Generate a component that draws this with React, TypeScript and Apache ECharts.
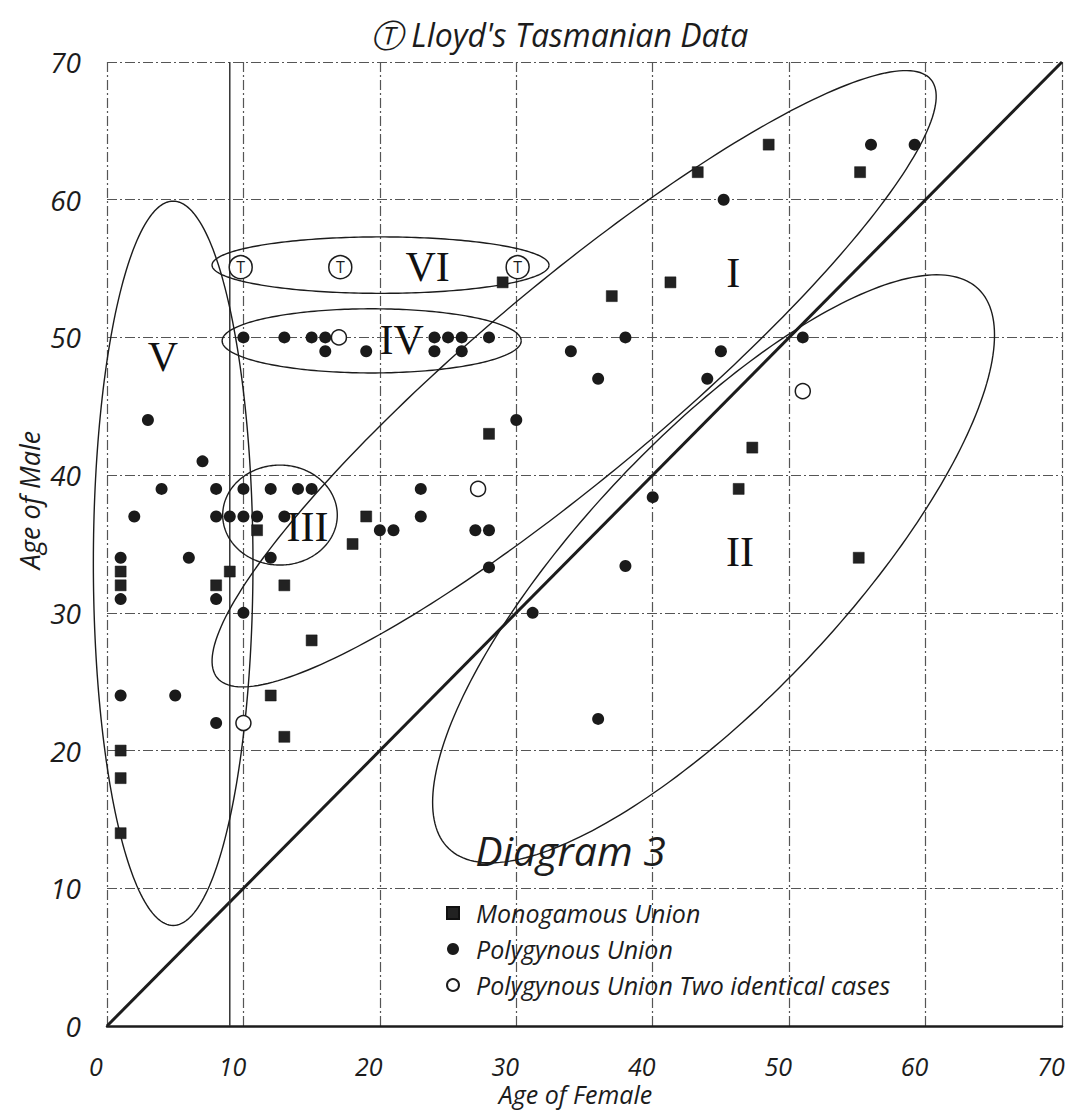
import React, { useEffect, useRef } from "react";
import * as echarts from "echarts";

// Age of Female (x), Age of Male (y)
const monogamous: number[][] = [
  [1, 20], [1, 18], [1, 14], [1, 33], [1, 32], [8, 32], [9, 33], [11, 36], [13, 32],
  [15, 28], [12, 24], [13, 21], [18, 35], [19, 37], [28, 43], [29, 54], [37, 53],
  [41.3, 54], [43.3, 62], [48.5, 64], [55.2, 62], [47.3, 42], [46.3, 39], [55.1, 34],
];
const polygynous: number[][] = [
  [1, 34], [1, 31], [1, 24], [2, 37], [3, 44], [4, 39], [5, 24], [6, 34], [7, 41],
  [8, 39], [8, 37], [8, 31], [8, 22], [9, 37], [10, 39], [10, 37], [10, 30], [10, 50],
  [11, 37], [12, 39], [12, 34], [13, 37], [13, 50], [14, 39], [15, 39], [15, 50],
  [16, 50], [16, 49], [19, 49], [20, 36], [21, 36], [23, 39], [23, 37], [24, 50],
  [24, 49], [25, 50], [26, 50], [26, 49], [27, 36], [28, 36], [28, 33.3], [28, 50],
  [30, 44], [31.2, 30], [34, 49], [36, 47], [36, 22.3], [38, 50], [38, 33.4],
  [40, 38.4], [44, 47], [45, 49], [45.2, 60], [51, 50], [56, 64], [59.2, 64],
];
const polygynousTwin: number[][] = [[10, 22], [17, 50], [27.2, 39], [51, 46.1]];
const lloydTasmanian: number[][] = [[9.8, 55.1], [17.1, 55.1], [30.1, 55.1]];
// group ellipses: centreX, centreY, semi-axis a, semi-axis b, angle (deg)
const groupEllipses: number[][] = [
  [34.24, 47.0, 34.0, 7.0, 39.7], // I
  [44.46, 33.2, 28.1, 9.5, 46.3], // II
  [12.68, 37.1, 4.2, 3.63, 0], // III
  [19.4, 49.75, 10.96, 2.33, 0], // IV
  [4.85, 33.6, 5.85, 26.3, 0], // V
  [20.05, 55.25, 12.35, 2.05, 0], // VI
];
const groupNames = ["I", "II", "III", "IV", "V", "VI"];
const groupLabelPos: number[][] = [
  [45.9, 54.7], [46.4, 34.4], [14.7, 36.2], [21.6, 49.8], [4.1, 48.6], [23.5, 55.1],
];
const diagonal: number[][] = [[0, 0], [70, 70]];
const extraLine: number[][] = [[9, 0], [9, 70]];
const diagramTitlePos: number[] = [27, 12.8];

const SANS = "'Open Sans', 'DejaVu Sans', sans-serif";
const SERIF = "'Liberation Serif', 'DejaVu Serif', serif";
const INK = "#1c1c1c";

export default function App() {
  const ref = useRef<HTMLDivElement>(null);
  useEffect(() => {
    if (!ref.current) return;
    const chart = echarts.init(ref.current, undefined, { renderer: "svg" });
    const gridLine = { show: true, lineStyle: { color: "#555", width: 1.2, type: [10, 3, 2, 3] } };
    const option: any = {
      animation: false,
      backgroundColor: "#fff",
      title: {
        text: "Ⓣ Lloyd's Tasmanian Data",
        left: 366,
        top: 13,
        textStyle: { fontSize: 32, fontStyle: "italic", fontWeight: "normal", fontFamily: SANS, color: INK },
      },
      grid: { left: 107, top: 62, width: 955, height: 964, outerBoundsMode: "none", containLabel: false },
      xAxis: {
        type: "value",
        min: 0,
        max: 70,
        interval: 10,
        name: "Age of Female",
        nameLocation: "middle",
        nameGap: 59,
        nameMoveOverlap: false,
        nameTextStyle: {
          fontSize: 25, fontStyle: "italic", fontFamily: SANS, color: INK,
          padding: [0, 18, 0, 0], verticalAlign: "top", lineHeight: 18,
        },
        axisLine: { show: true, lineStyle: { color: INK, width: 2.5 } },
        axisTick: { show: false },
        splitLine: gridLine,
        axisLabel: {
          fontSize: 25, fontStyle: "italic", fontFamily: SANS, color: INK,
          margin: 30, lineHeight: 20, padding: [0, 22, 0, 0],
        },
      },
      yAxis: {
        type: "value",
        min: 0,
        max: 70,
        interval: 10,
        name: "Age of Male",
        nameLocation: "middle",
        nameGap: 64,
        nameMoveOverlap: false,
        nameRotate: 90,
        nameTextStyle: { fontSize: 27, fontStyle: "italic", fontFamily: SANS, color: INK, padding: [0, 0, 0, 88] },
        axisLine: { show: false },
        axisTick: { show: false },
        splitLine: gridLine,
        axisLabel: { fontSize: 28, fontStyle: "italic", fontFamily: SANS, color: INK, margin: 26, padding: [12, 0, 0, 0] },
      },
      legend: {
        orient: "vertical",
        left: 441,
        top: 893,
        itemWidth: 12,
        itemHeight: 12,
        itemGap: 6,
        data: [
          { name: "Monogamous Union", icon: "rect" },
          { name: "Polygynous Union", icon: "circle" },
          { name: "Polygynous Union Two identical cases", icon: "circle" },
        ],
        textStyle: { fontSize: 25, fontStyle: "italic", fontFamily: SANS, color: INK, lineHeight: 30, padding: [0, 0, 0, 12] },
      },
      series: [
        {
          type: "line",
          data: diagonal,
          symbol: "none",
          lineStyle: { color: INK, width: 3 },
          silent: true,
          z: 3,
        },
        {
          type: "line",
          data: extraLine,
          symbol: "none",
          lineStyle: { color: "#333", width: 1.5 },
          silent: true,
          z: 3,
        },
        {
          type: "custom",
          data: groupEllipses,
          clip: false,
          silent: true,
          z: 4,
          renderItem: (params: any, api: any) => {
            const cx = api.value(0), cy = api.value(1), a = api.value(2), b = api.value(3);
            const ang = (api.value(4) * Math.PI) / 180;
            const pts: number[][] = [];
            const n = 240;
            for (let i = 0; i <= n; i++) {
              const t = (i / n) * Math.PI * 2;
              const u = a * Math.cos(t), v = b * Math.sin(t);
              pts.push(api.coord([cx + u * Math.cos(ang) - v * Math.sin(ang), cy + u * Math.sin(ang) + v * Math.cos(ang)]));
            }
            return { type: "polyline", shape: { points: pts }, style: { fill: "none", stroke: INK, lineWidth: 1.4 } };
          },
        },
        {
          name: "Monogamous Union",
          type: "scatter",
          data: monogamous,
          symbol: "rect",
          symbolSize: 11,
          itemStyle: { color: "#222", borderColor: "#111", borderWidth: 0.5, opacity: 1 },
          z: 6,
        },
        {
          name: "Polygynous Union",
          type: "scatter",
          data: polygynous,
          symbol: "circle",
          symbolSize: 12,
          itemStyle: { color: "#1a1a1a", opacity: 1 },
          z: 6,
        },
        {
          name: "Polygynous Union Two identical cases",
          type: "scatter",
          data: polygynousTwin,
          symbol: "circle",
          symbolSize: 15,
          itemStyle: { color: "#fff", borderColor: INK, borderWidth: 1.5, opacity: 1 },
          z: 6,
        },
        {
          name: "Lloyd",
          type: "scatter",
          data: lloydTasmanian,
          symbol: "circle",
          symbolSize: 23,
          itemStyle: { color: "#fff", borderColor: INK, borderWidth: 1.5, opacity: 1 },
          label: { show: true, position: "inside", formatter: "T", fontSize: 16, color: INK, fontFamily: SANS },
          z: 7,
        },
        {
          type: "scatter",
          data: groupLabelPos.map((p, i) => ({ name: groupNames[i], value: p })),
          symbolSize: 0,
          silent: true,
          itemStyle: { opacity: 1 },
          label: {
            show: true,
            position: "inside",
            formatter: (p: any) => p.name,
            fontSize: 42,
            fontFamily: SERIF,
            color: "#111",
            opacity: 1,
          },
          z: 8,
        },
        {
          type: "scatter",
          data: [{ name: "Diagram 3", value: diagramTitlePos }],
          symbolSize: 0,
          silent: true,
          itemStyle: { opacity: 1 },
          label: {
            show: true,
            position: [0, 0],
            align: "left",
            verticalAlign: "middle",
            formatter: (p: any) => p.name,
            fontSize: 41,
            fontStyle: "italic",
            fontFamily: SANS,
            color: INK,
            opacity: 1,
          },
          z: 8,
        },
      ],
    };
    chart.setOption(option);
    return () => chart.dispose();
  }, []);
  return <div ref={ref} style={{ position: "absolute", left: 0, top: 0, width: 1082, height: 1113 }} />;
}
